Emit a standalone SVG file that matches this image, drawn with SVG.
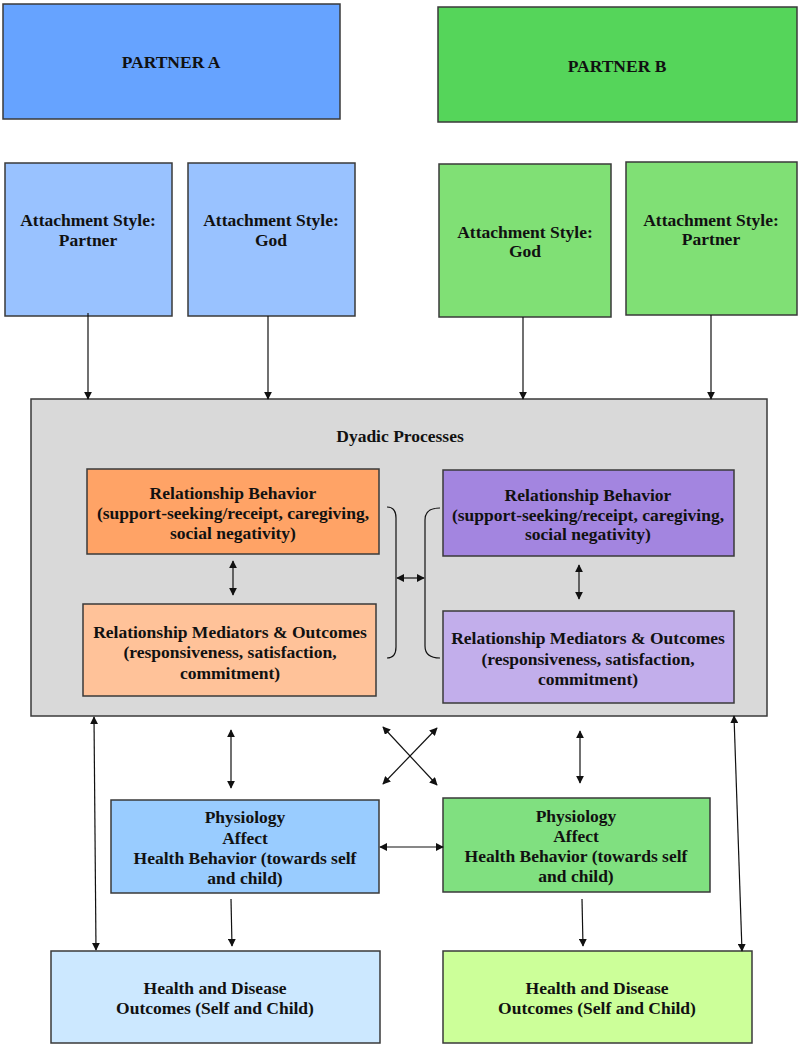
<svg xmlns="http://www.w3.org/2000/svg" width="798" height="1050" viewBox="0 0 798 1050">
<defs>
<style>
.b{stroke:#3a3a3a;stroke-width:1.5}
.t{font-family:"Liberation Serif","Times New Roman",serif;font-weight:bold;font-size:17.5px;fill:#111;text-anchor:middle}
.c{fill:none;stroke:#111;stroke-width:1.2}
</style>
<marker id="ah" viewBox="0 0 10 10" refX="9" refY="5" markerWidth="8" markerHeight="8" markerUnits="userSpaceOnUse" orient="auto-start-reverse">
<path d="M0,0 L10,5 L0,10 Z" fill="#111"/>
</marker>
</defs>
<rect width="798" height="1050" fill="#fff"/>

<g id="partnerA"><rect class="b" x="3" y="4" width="337" height="115" fill="#66A3FF"/><text class="t" x="171" y="68">PARTNER A</text></g>
<g id="partnerB"><rect class="b" x="438" y="7" width="359" height="115" fill="#55D55A"/><text class="t" x="617" y="72">PARTNER B</text></g>

<g id="attA_partner"><rect class="b" x="5" y="163" width="167" height="153" fill="#99C2FF"/><text class="t" x="88" y="226">Attachment Style:</text><text class="t" x="88" y="246">Partner</text></g>
<g id="attA_god"><rect class="b" x="188" y="163" width="167" height="153" fill="#99C2FF"/><text class="t" x="271" y="226">Attachment Style:</text><text class="t" x="271" y="246">God</text></g>
<g id="attB_god"><rect class="b" x="439" y="164" width="172" height="153" fill="#80E075"/><text class="t" x="525" y="238">Attachment Style:</text><text class="t" x="525" y="257">God</text></g>
<g id="attB_partner"><rect class="b" x="626" y="162" width="171" height="153" fill="#80E075"/><text class="t" x="711" y="226">Attachment Style:</text><text class="t" x="711" y="245">Partner</text></g>

<g id="dyadic"><rect class="b" x="31" y="399" width="736" height="317" fill="#D9D9D9"/><text class="t" x="400" y="442">Dyadic Processes</text></g>

<g id="relBehA"><rect class="b" x="87" y="469" width="292" height="85" fill="#FFA366"/><text class="t" x="233" y="499">Relationship Behavior</text><text class="t" x="233" y="519">(support-seeking/receipt, caregiving,</text><text class="t" x="233" y="539">social negativity)</text></g>
<g id="relMedA"><rect class="b" x="83" y="604" width="293" height="92" fill="#FFC299"/><text class="t" x="230" y="638">Relationship Mediators &amp; Outcomes</text><text class="t" x="230" y="658">(responsiveness, satisfaction,</text><text class="t" x="230" y="679">commitment)</text></g>
<g id="relBehB"><rect class="b" x="443" y="470" width="291" height="86" fill="#A385E0"/><text class="t" x="588" y="501">Relationship Behavior</text><text class="t" x="588" y="521">(support-seeking/receipt, caregiving,</text><text class="t" x="588" y="540">social negativity)</text></g>
<g id="relMedB"><rect class="b" x="443" y="611" width="291" height="92" fill="#C2AEEB"/><text class="t" x="588" y="644">Relationship Mediators &amp; Outcomes</text><text class="t" x="588" y="665">(responsiveness, satisfaction,</text><text class="t" x="588" y="685">commitment)</text></g>

<g id="physA"><rect class="b" x="111" y="800" width="268" height="93" fill="#99CCFF"/><text class="t" x="245" y="823">Physiology</text><text class="t" x="245" y="844">Affect</text><text class="t" x="245" y="864">Health Behavior (towards self</text><text class="t" x="245" y="884">and child)</text></g>
<g id="physB"><rect class="b" x="443" y="798" width="267" height="94" fill="#80E080"/><text class="t" x="576" y="822">Physiology</text><text class="t" x="576" y="842">Affect</text><text class="t" x="576" y="862">Health Behavior (towards self</text><text class="t" x="576" y="882">and child)</text></g>

<g id="healthA"><rect class="b" x="51" y="951" width="329" height="92" fill="#CCE8FF"/><text class="t" x="215" y="994">Health and Disease</text><text class="t" x="215" y="1014">Outcomes (Self and Child)</text></g>
<g id="healthB"><rect class="b" x="443" y="951" width="309" height="92" fill="#CCFF99"/><text class="t" x="597" y="994">Health and Disease</text><text class="t" x="597" y="1014">Outcomes (Self and Child)</text></g>

<g id="connectors">
<line class="c" x1="88" y1="313" x2="88" y2="399" marker-end="url(#ah)"/>
<line class="c" x1="268" y1="316" x2="268" y2="399" marker-end="url(#ah)"/>
<line class="c" x1="523" y1="317" x2="523" y2="399" marker-end="url(#ah)"/>
<line class="c" x1="711" y1="315" x2="711" y2="399" marker-end="url(#ah)"/>
<line class="c" x1="233" y1="561" x2="233" y2="595" marker-start="url(#ah)" marker-end="url(#ah)"/>
<line class="c" x1="579" y1="565" x2="579" y2="599" marker-start="url(#ah)" marker-end="url(#ah)"/>
<path class="c" d="M387,507 Q396,507 396,518 L396,647 Q396,658 387,658"/>
<path class="c" d="M440,508 Q425,508 425,520 L425,646 Q425,658 440,658"/>
<line class="c" x1="397" y1="578" x2="424" y2="578" marker-start="url(#ah)" marker-end="url(#ah)"/>
<line class="c" x1="94" y1="717" x2="96" y2="950" marker-start="url(#ah)" marker-end="url(#ah)"/>
<line class="c" x1="231" y1="730" x2="231" y2="788" marker-start="url(#ah)" marker-end="url(#ah)"/>
<line class="c" x1="383" y1="727" x2="437" y2="785" marker-start="url(#ah)" marker-end="url(#ah)"/>
<line class="c" x1="383" y1="784" x2="437" y2="728" marker-start="url(#ah)" marker-end="url(#ah)"/>
<line class="c" x1="580" y1="731" x2="580" y2="783" marker-start="url(#ah)" marker-end="url(#ah)"/>
<line class="c" x1="734" y1="716" x2="742" y2="951" marker-start="url(#ah)" marker-end="url(#ah)"/>
<line class="c" x1="380" y1="847" x2="443" y2="847" marker-start="url(#ah)" marker-end="url(#ah)"/>
<line class="c" x1="231" y1="899" x2="232" y2="946" marker-end="url(#ah)"/>
<line class="c" x1="582" y1="899" x2="583" y2="946" marker-end="url(#ah)"/>
</g>
</svg>
